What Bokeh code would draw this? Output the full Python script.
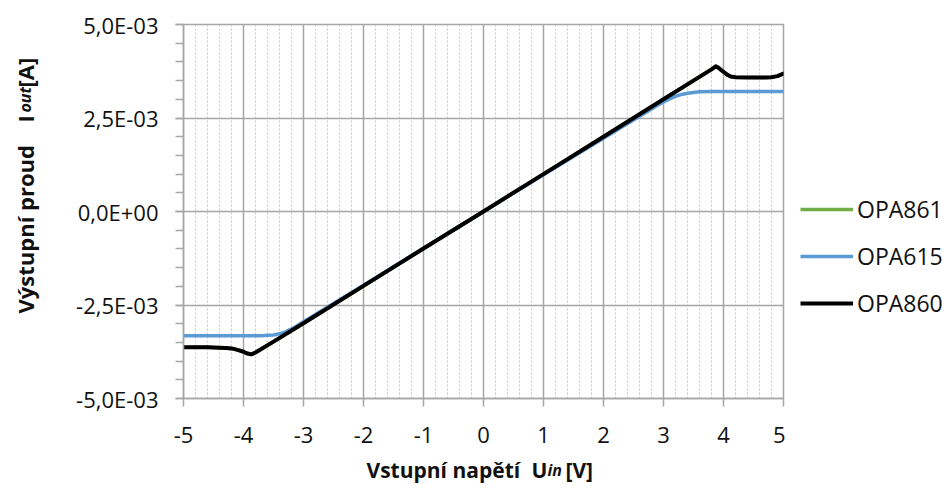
import math
from bokeh.plotting import figure
from bokeh.layouts import row, column
from bokeh.models import (Range1d, FixedTicker, CustomJSTickFormatter,
                          Legend, LegendItem)
from bokeh.core.properties import value
from bokeh.embed import file_html
from bokeh.resources import INLINE

# ---------------- data (input voltage in V, output current in mA) -------------
opa615_x = [-5.0, -4.5, -4.0, -3.7, -3.6, -3.5, -3.4, -3.3, -3.2, -3.1, -3.0,
            -2.0, -1.0, 0.0, 1.0, 2.0, 2.8, 2.9, 3.0, 3.1, 3.2, 3.3, 3.4, 3.5,
            3.6, 3.8, 4.0, 4.5, 5.0]
opa615_ma = [-3.32, -3.32, -3.32, -3.32, -3.31, -3.30, -3.27, -3.22, -3.14,
             -3.05, -2.95, -1.97, -0.98, 0.0, 0.98, 1.96, 2.74, 2.84, 2.93,
             3.01, 3.08, 3.13, 3.16, 3.18, 3.20, 3.21, 3.21, 3.21, 3.21]

opa860_x = [-5.0, -4.6, -4.4, -4.3, -4.2, -4.1, -4.0, -3.95, -3.9, -3.87, -3.8,
            -3.5, -3.0, -2.0, -1.0, 0.0, 1.0, 2.0, 3.0, 3.5, 3.8, 3.87, 3.92,
            3.97, 4.02, 4.06, 4.12, 4.2, 4.4, 4.7, 4.8, 4.9, 5.0]
opa860_ma = [-3.63, -3.63, -3.64, -3.65, -3.66, -3.70, -3.75, -3.79, -3.81,
             -3.82, -3.77, -3.48, -2.99, -1.99, -0.99, 0.0, 1.0, 2.0, 3.0, 3.5,
             3.8, 3.88, 3.84, 3.77, 3.71, 3.66, 3.61, 3.59, 3.58, 3.58, 3.59,
             3.62, 3.69]

opa861_x = [-5.0, -4.6, -4.4, -4.3, -4.2, -4.1, -4.0, -3.95, -3.9, -3.87, -3.8,
            -3.5, -3.0, -2.0, -1.0, 0.0, 1.0, 2.0, 3.0, 3.5, 3.8, 3.87, 3.92,
            3.97, 4.02, 4.06, 4.12, 4.2, 4.4, 4.7, 4.8, 4.9, 5.0]
opa861_ma = [-3.63, -3.63, -3.64, -3.65, -3.66, -3.70, -3.75, -3.79, -3.81,
             -3.82, -3.77, -3.48, -2.99, -1.99, -0.99, 0.0, 1.0, 2.0, 3.0, 3.5,
             3.8, 3.88, 3.84, 3.77, 3.71, 3.66, 3.61, 3.59, 3.58, 3.58, 3.59,
             3.62, 3.69]

series_names = ["OPA861", "OPA615", "OPA860"]
series_colors = ["#70AD47", "#5B9BD5", "#000000"]

x_ticks = [-5, -4, -3, -2, -1, 0, 1, 2, 3, 4, 5]
x_tick_labels = ["-5", "-4", "-3", "-2", "-1", "0", "1", "2", "3", "4", "5"]
x_minor_ticks = [round(-5 + 0.2 * i, 1) for i in range(51)]
y_ticks = [-0.005, -0.0025, 0.0, 0.0025, 0.005]
y_tick_labels = ["-5,0E-03", "-2,5E-03", "0,0E+00", "2,5E-03", "5,0E-03"]
y_minor_ticks = [round(-0.005 + 0.0005 * i, 6) for i in range(21)]

x_title = ["Vstupní napětí", "U", "in", "[V]"]
y_title = ["Výstupní proud", "I", "out", "[A]"]

# ---------------- geometry (page pixels) ----------------
W, H = 952, 489
YT_W = 50                 # strip with the y title
LG_W = 167                # strip with the legend
XT_H = 33                 # strip with the x title
TOP_H = H - XT_H
FRAME_L, FRAME_R, FRAME_T, FRAME_B = 183, 783, 24, 398
MAIN_W = W - YT_W - LG_W
XMIN, XMAX, YMIN, YMAX = -5.0, 5.0, -0.005, 0.005

GRID = "#A6A6A6"
TEXT_FONT = "Open Sans"
TXT = "#111111"

p = figure(width=MAIN_W, height=TOP_H, x_range=Range1d(XMIN, XMAX),
           y_range=Range1d(YMIN, YMAX), output_backend="svg",
           toolbar_location=None,
           min_border_left=FRAME_L - YT_W,
           min_border_right=YT_W + MAIN_W - FRAME_R,
           min_border_top=FRAME_T, min_border_bottom=TOP_H - FRAME_B)
p.title.visible = False
p.background_fill_color = "white"
p.border_fill_color = "white"
p.outline_line_color = GRID
p.outline_line_width = 1.5


def lookup_formatter(vals, labs):
    return CustomJSTickFormatter(args=dict(vals=vals, labs=labs), code="""
        for (let i = 0; i < vals.length; i++) {
            if (Math.abs(vals[i] - tick) < 1e-9) return labs[i];
        }
        return "";
    """)


# x axis
p.xaxis.ticker = FixedTicker(ticks=x_ticks, minor_ticks=x_minor_ticks)
p.xaxis.formatter = lookup_formatter(x_ticks, x_tick_labels)
p.xaxis.axis_line_color = GRID
p.xaxis.axis_line_width = 1.5
p.xaxis.major_tick_line_color = GRID
p.xaxis.major_tick_line_width = 1.5
p.xaxis.major_tick_out = 8
p.xaxis.major_tick_in = 0
p.xaxis.minor_tick_line_color = None
p.xaxis.major_label_text_font = TEXT_FONT
p.xaxis.major_label_text_font_size = "22px"
p.xaxis.major_label_text_color = TXT
p.xaxis.major_label_standoff = 20

# y axis
p.yaxis.ticker = FixedTicker(ticks=y_ticks, minor_ticks=y_minor_ticks)
p.yaxis.formatter = lookup_formatter(y_ticks, y_tick_labels)
p.yaxis.axis_line_color = GRID
p.yaxis.axis_line_width = 1.5
p.yaxis.major_tick_line_color = GRID
p.yaxis.major_tick_line_width = 1.5
p.yaxis.major_tick_out = 8
p.yaxis.major_tick_in = 0
p.yaxis.minor_tick_line_color = GRID
p.yaxis.minor_tick_line_width = 1.5
p.yaxis.minor_tick_out = 8
p.yaxis.minor_tick_in = 0
p.yaxis.major_label_text_font = TEXT_FONT
p.yaxis.major_label_text_font_size = "22px"
p.yaxis.major_label_text_color = TXT
p.yaxis.major_label_standoff = 17

# grids
p.xgrid.ticker = FixedTicker(ticks=x_ticks, minor_ticks=x_minor_ticks)
p.xgrid.grid_line_color = GRID
p.xgrid.grid_line_width = 1.5
p.xgrid.minor_grid_line_color = "#C8C8C8"
p.xgrid.minor_grid_line_width = 1
p.xgrid.minor_grid_line_dash = "2 2"
p.ygrid.ticker = FixedTicker(ticks=y_ticks)
p.ygrid.grid_line_color = GRID
p.ygrid.grid_line_width = 1.5
p.ygrid.minor_grid_line_color = None

# series
xs = [opa861_x, opa615_x, opa860_x]
ys = [opa861_ma, opa615_ma, opa860_ma]
widths = [3.5, 3.5, 4.0]
for xv, yv, c, w in zip(xs, ys, series_colors, widths):
    p.line(list(xv), [v * 1e-3 for v in yv], line_color=c, line_width=w,
           line_join="round", line_cap="round")


# ---------------- helper strips (data units = pixels inside their frame) ----
def strip(width, height, bl, br, bt, bb):
    f = figure(width=width, height=height,
               x_range=Range1d(0, width - bl - br),
               y_range=Range1d(0, height - bt - bb),
               output_backend="svg", toolbar_location=None,
               x_axis_type=None, y_axis_type=None,
               min_border_left=bl, min_border_right=br,
               min_border_top=bt, min_border_bottom=bb)
    f.title.visible = False
    f.grid.visible = False
    f.outline_line_color = None
    f.background_fill_color = "white"
    f.border_fill_color = "white"
    return f


# y title strip: same vertical borders as the main plot
yt = strip(YT_W, TOP_H, 0, 0, FRAME_T, TOP_H - FRAME_B)
Y_BASE = 24   # x of the text baseline
y_pieces = [(y_title[0], 313, "22px", "bold"),
            (y_title[1], 122, "22px", "bold"),
            (y_title[2], 112, "16px", "bold italic"),
            (y_title[3], 87, "22px", "bold")]
for t, py, sz, st in y_pieces:
    yt.text(x=[Y_BASE], y=[FRAME_B - py], text=[t], angle=math.pi / 2,
            text_font=value(TEXT_FONT), text_font_size=sz,
            text_font_style=st, text_color=TXT,
            text_align="left", text_baseline="alphabetic")

# legend strip: same vertical borders as the main plot; the sample
# renderers hold no visible data (they sit outside the strip's range)
lg = strip(LG_W, TOP_H, 0, 0, FRAME_T, TOP_H - FRAME_B)
lg_renderers = [lg.line(x=[-50, -40], y=[-50, -40], line_color=c,
                        line_width=w)
                for c, w in zip(series_colors, widths)]
LG_LEFT = 800 - (W - LG_W)
legend = Legend(items=[LegendItem(label=n, renderers=[r])
                       for n, r in zip(series_names, lg_renderers)],
                location=(LG_LEFT, FRAME_B - 319), orientation="vertical",
                glyph_width=53, glyph_height=30, label_height=30,
                label_standoff=4, spacing=15, padding=0, margin=0,
                border_line_color=None, background_fill_alpha=0,
                label_text_font=TEXT_FONT, label_text_font_size="23px",
                label_text_color=TXT)
lg.add_layout(legend)

# x title strip: same horizontal borders as the main plot's frame
xt = strip(W, XT_H, FRAME_L, W - FRAME_R, 0, 0)
X_BASE = 469  # page y of the text baseline
x_pieces = [(x_title[0], 366, "21px", "bold"),
            (x_title[1], 531, "21px", "bold"),
            (x_title[2], 547, "16px", "bold italic"),
            (x_title[3], 565, "21px", "bold")]
for t, px, sz, st in x_pieces:
    xt.text(x=[px - FRAME_L], y=[H - X_BASE], text=[t],
            text_font=value(TEXT_FONT), text_font_size=sz,
            text_font_style=st, text_color=TXT,
            text_align="left", text_baseline="alphabetic")

layout = column(row(yt, p, lg), xt)
open("out.html", "w").write(file_html(layout, INLINE))
